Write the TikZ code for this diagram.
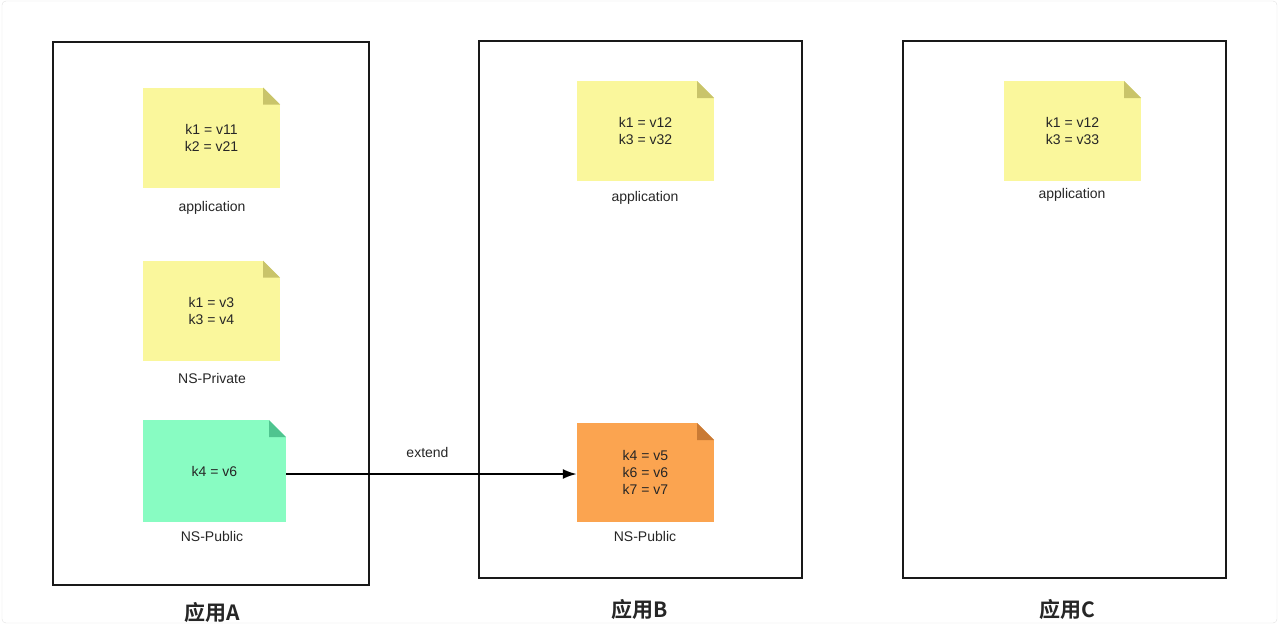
\documentclass[tikz,border=0pt]{standalone}
\usepackage{fontspec}
\setmainfont{Liberation Sans}
\newfontfamily\cjk{Noto Sans CJK SC}[BoldFont={Noto Sans CJK SC Bold}]
\usetikzlibrary{calc,arrows.meta}
\begin{document}
\begin{tikzpicture}[x=1pt,y=-1pt,
 note/.style n args={3}{minimum width=137pt,minimum height=100pt,inner sep=0pt,align=center,font=\fontsize{14}{17}\selectfont,text=black!85,
  path picture={\fill[#1] (path picture bounding box.south west) rectangle (path picture bounding box.north east);
   \fill[white] ($(path picture bounding box.north east)+(-17pt,0pt)$) -- (path picture bounding box.north east) -- ++(0pt,-17pt) -- cycle;
   \fill[#2] ($(path picture bounding box.north east)+(-17pt,0pt)$) -- ++(17pt,-17pt) -- ++(-17pt,0pt) -- cycle;}},
 lab/.style={font=\fontsize{14}{17}\selectfont,text=black!85},
 app/.style={draw=black!90,line width=2pt},
 title/.style={font=\cjk\bfseries\fontsize{21}{24}\selectfont,text=black!85}]
\useasboundingbox (0,0) rectangle (1280,624);
\draw[black!12,rounded corners=4pt] (2,1) rectangle (1277,623);
\draw[app] (53,42) rectangle (369,585);
\draw[app] (479,41) rectangle (802,578);
\draw[app] (903,41) rectangle (1226,578);
\node[title] (tA) at (212,612) {应用A};
\node[title] (tB) at (640,609) {应用B};
\node[title] (tC) at (1067,609) {应用C};
\definecolor{ny}{HTML}{FAF79C}\definecolor{nyd}{HTML}{C9C46A}
\definecolor{ng}{HTML}{88FCC2}\definecolor{ngd}{HTML}{4FC48F}
\definecolor{no}{HTML}{FBA450}\definecolor{nod}{HTML}{C97A34}
\node[note={ny}{nyd}{}] (a1) at (211.5,137.5) {k1 = v11\\k2 = v21};
\node[lab] at (212,208) {application};
\node[note={ny}{nyd}{}] (a2) at (211.5,310.5) {k1 = v3\\k3 = v4};
\node[lab] at (212,378) {NS-Private};
\node[note={ng}{ngd}{},minimum width=143pt,minimum height=102pt] (a3) at (214.5,471) {k4 = v6};
\node[lab] at (212,536) {NS-Public};
\node[note={ny}{nyd}{}] (b1) at (645.5,131) {k1 = v12\\k3 = v32};
\node[lab] at (645,198) {application};
\node[note={no}{nod}{},minimum height=99pt] (b2) at (645.5,472.5) {k4 = v5\\k6 = v6\\k7 = v7};
\node[lab] at (645,536) {NS-Public};
\node[note={ny}{nyd}{}] (c1) at (1072.5,131) {k1 = v12\\k3 = v33};
\node[lab] at (1072,195) {application};
\coordinate (ae) at ($(a3.east)+(0pt,-3pt)$);
\draw[line width=2pt,-{Latex[length=14pt,width=10pt]}] (ae) -- (ae -| b2.west) node[pos=0.5,above=12pt,lab,xshift=-4pt] {extend};
\end{tikzpicture}
\end{document}
